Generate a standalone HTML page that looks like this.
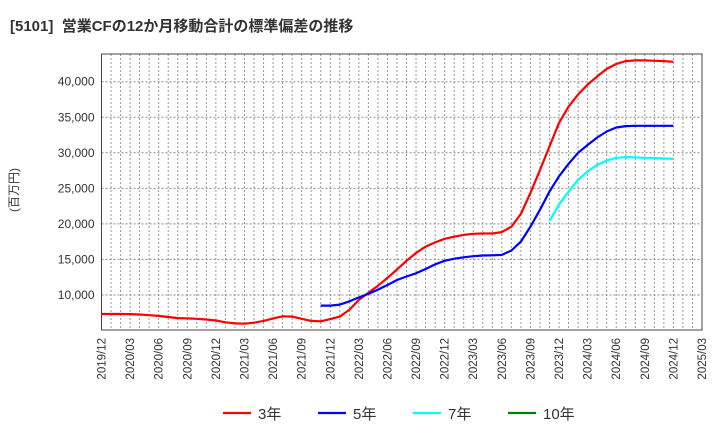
<!DOCTYPE html>
<html><head><meta charset="utf-8"><style>
body{margin:0;background:#fff;}
svg text{font-family:"Liberation Sans","Noto Sans CJK JP",sans-serif;}
</style></head><body>
<svg id="c" width="720" height="440" xmlns="http://www.w3.org/2000/svg">
<text x="10" y="31" font-size="15" font-weight="bold" fill="#333">[5101]&#160;&#160;営業CFの12か月移動合計の標準偏差の推移</text>
<text transform="translate(18,190) rotate(-90)" text-anchor="middle" font-size="12" fill="#333">(百万円)</text>
<g id="grid"></g><g id="axes"></g><g id="series"></g><g id="legend"></g>
</svg>
<script>
const startYear = 2019, startMonth = 12;
const yTicks = [10000,15000,20000,25000,30000,35000,40000];
const xTickLabels = ["2019/12","2020/03","2020/06","2020/09","2020/12","2021/03","2021/06","2021/09","2021/12","2022/03","2022/06","2022/09","2022/12","2023/03","2023/06","2023/09","2023/12","2024/03","2024/06","2024/09","2024/12","2025/03"];
const seriesNames = ["3年","5年","7年","10年"];
const seriesColors = ["#ff0000","#0000ff","#00ffff","#008000"];
// monthly values starting 2019/12 (index 0)
const s3 = [7320,7320,7320,7300,7250,7150,7050,6900,6750,6700,6650,6550,6400,6150,6000,5950,6100,6350,6700,7000,6950,6650,6350,6300,6600,6950,7900,9300,10300,11300,12400,13600,14800,15900,16800,17400,17900,18200,18450,18600,18650,18650,18850,19600,21400,24350,27600,30900,34200,36500,38200,39600,40750,41800,42500,42900,43000,43000,42950,42900,42800];
const s5Start = 23;
const s5 = [8500,8500,8650,9100,9650,10150,10750,11400,12100,12600,13050,13650,14300,14800,15100,15300,15450,15550,15580,15630,16250,17500,19600,22000,24550,26700,28450,30000,31100,32150,33000,33560,33750,33800,33800,33800,33800,33800];
const s7Start = 47;
const s7 = [20400,22700,24550,26200,27400,28300,28900,29300,29400,29350,29300,29250,29200,29150];
const s10Start = 0;
const s10 = [];

const L=101.5,R=702,T=54,B=330;
const months=63;
const yMin=5070,yMax=43900;
const xS=i=>L+(R-L)*i/months;
const yS=v=>B-(v-yMin)/(yMax-yMin)*(B-T);
const NS="http://www.w3.org/2000/svg";
function mk(tag,attrs,parent){const e=document.createElementNS(NS,tag);for(const k in attrs)e.setAttribute(k,attrs[k]);parent.appendChild(e);return e;}
const grid=document.getElementById('grid'),axes=document.getElementById('axes'),ser=document.getElementById('series'),leg=document.getElementById('legend');
for(let i=1;i<months;i++){const l=mk('line',{x1:xS(i),x2:xS(i),y1:T,y2:B,stroke:'#999','stroke-dasharray':'2,2','stroke-width':1},grid);

}
yTicks.forEach(v=>{const l=mk('line',{x1:L,x2:R,y1:yS(v),y2:yS(v),stroke:'#888','stroke-dasharray':'2,2','stroke-width':1},grid);


const t=mk('text',{x:L-7,y:yS(v)+4,'text-anchor':'end','font-size':12,fill:'#333'},axes);t.textContent=v.toLocaleString('en-US');

});
const fr=mk('rect',{x:L,y:T,width:R-L,height:B-T,fill:'none',stroke:'#444','stroke-width':1},axes);


xTickLabels.forEach((s,k)=>{const x=xS(k*3);const t=mk('text',{transform:`translate(${x+4},${B+8}) rotate(-90)`,'text-anchor':'end','font-size':11.5,fill:'#333'},axes);t.textContent=s;

});
function line(data,start,color,name){if(!data.length)return;const d=data.map((v,i)=>(i?'L':'M')+xS(start+i).toFixed(1)+','+yS(v).toFixed(1)).join(' ');
const p=mk('path',{d:d,fill:'none',stroke:color,'stroke-width':2.2,'stroke-linejoin':'round'},ser);

}
line(s3,0,seriesColors[0],'series-3yr');
line(s5,s5Start,seriesColors[1],'series-5yr');
line(s7,s7Start,seriesColors[2],'series-7yr');
line(s10,s10Start,seriesColors[3],'series-10yr');
const lx=[223,318,413,508];
seriesNames.forEach((n,i)=>{const g=mk('g',{},leg);


mk('line',{x1:lx[i],x2:lx[i]+28,y1:413,y2:413,stroke:seriesColors[i],'stroke-width':2.2},g);
const t=mk('text',{x:lx[i]+35,y:419,'font-size':15,fill:'#333'},g);t.textContent=n;});
</script>
</body></html>
